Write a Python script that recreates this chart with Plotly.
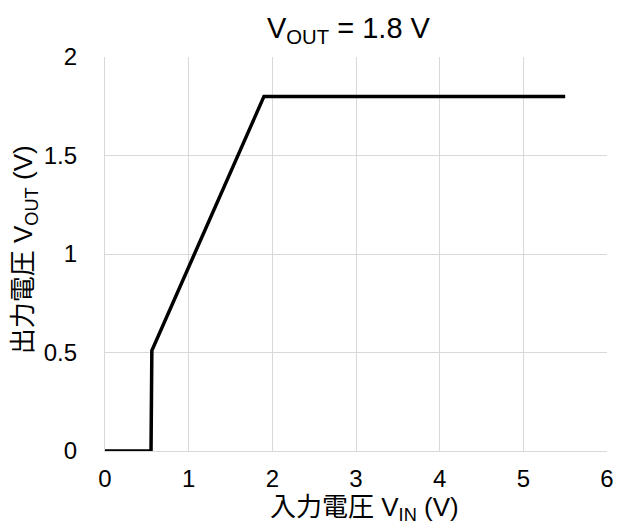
import plotly.graph_objects as go

vin = [0, 0.55, 0.56, 1.9, 5.5]
vout = [0, 0, 0.51, 1.8, 1.8]
x_ticks = [0, 1, 2, 3, 4, 5, 6]
y_ticks = [0, 0.5, 1, 1.5, 2]
y_tick_labels = ["0", "0.5", "1", "1.5", "2"]

font_family = "Liberation Sans, Arial, Noto Sans CJK JP, sans-serif"

fig = go.Figure()
fig.add_trace(go.Scatter(x=vin, y=vout, mode="lines",
                         line=dict(color="black", width=3.5), showlegend=False))

fig.update_layout(
    width=617, height=527,
    margin=dict(l=105, r=10, t=57, b=76, autoexpand=False),
    paper_bgcolor="white", plot_bgcolor="white",
    font=dict(family=font_family, color="black", size=24),
    xaxis=dict(range=[0, 6], tickvals=x_ticks, showgrid=True,
               gridcolor="#d9d9d9", gridwidth=1.3, zeroline=False,
               showline=True, linecolor="#d9d9d9", linewidth=1.3,
               ticks="", tickfont=dict(size=24), ticklabelstandoff=6),
    yaxis=dict(range=[0, 2], tickvals=y_ticks, ticktext=y_tick_labels, showgrid=True,
               gridcolor="#d9d9d9", gridwidth=1.3, zeroline=False,
               showline=True, linecolor="#d9d9d9", linewidth=1.3,
               ticks="", tickfont=dict(size=24), ticklabelstandoff=22),
    annotations=[
        dict(text="V<sub>OUT</sub> = 1.8 V", xref="paper", yref="paper",
             x=0.486, y=1.069, xanchor="center", yanchor="middle",
             showarrow=False, font=dict(size=29)),
        dict(text="入力電圧 V<sub>IN</sub> (V)", xref="paper", yref="paper",
             x=0.516, y=-0.147, xanchor="center", yanchor="middle",
             showarrow=False, font=dict(size=26)),
        dict(text="出力電圧 V<sub>OUT</sub> (V)", xref="paper", yref="paper",
             x=-0.161, y=0.51, xanchor="center", yanchor="middle",
             textangle=-90, showarrow=False, font=dict(size=26)),
    ],
)

fig.write_html("out.html", config={"displayModeBar": False},
               post_script="document.body.style.margin='0';document.body.style.overflow='hidden';")
